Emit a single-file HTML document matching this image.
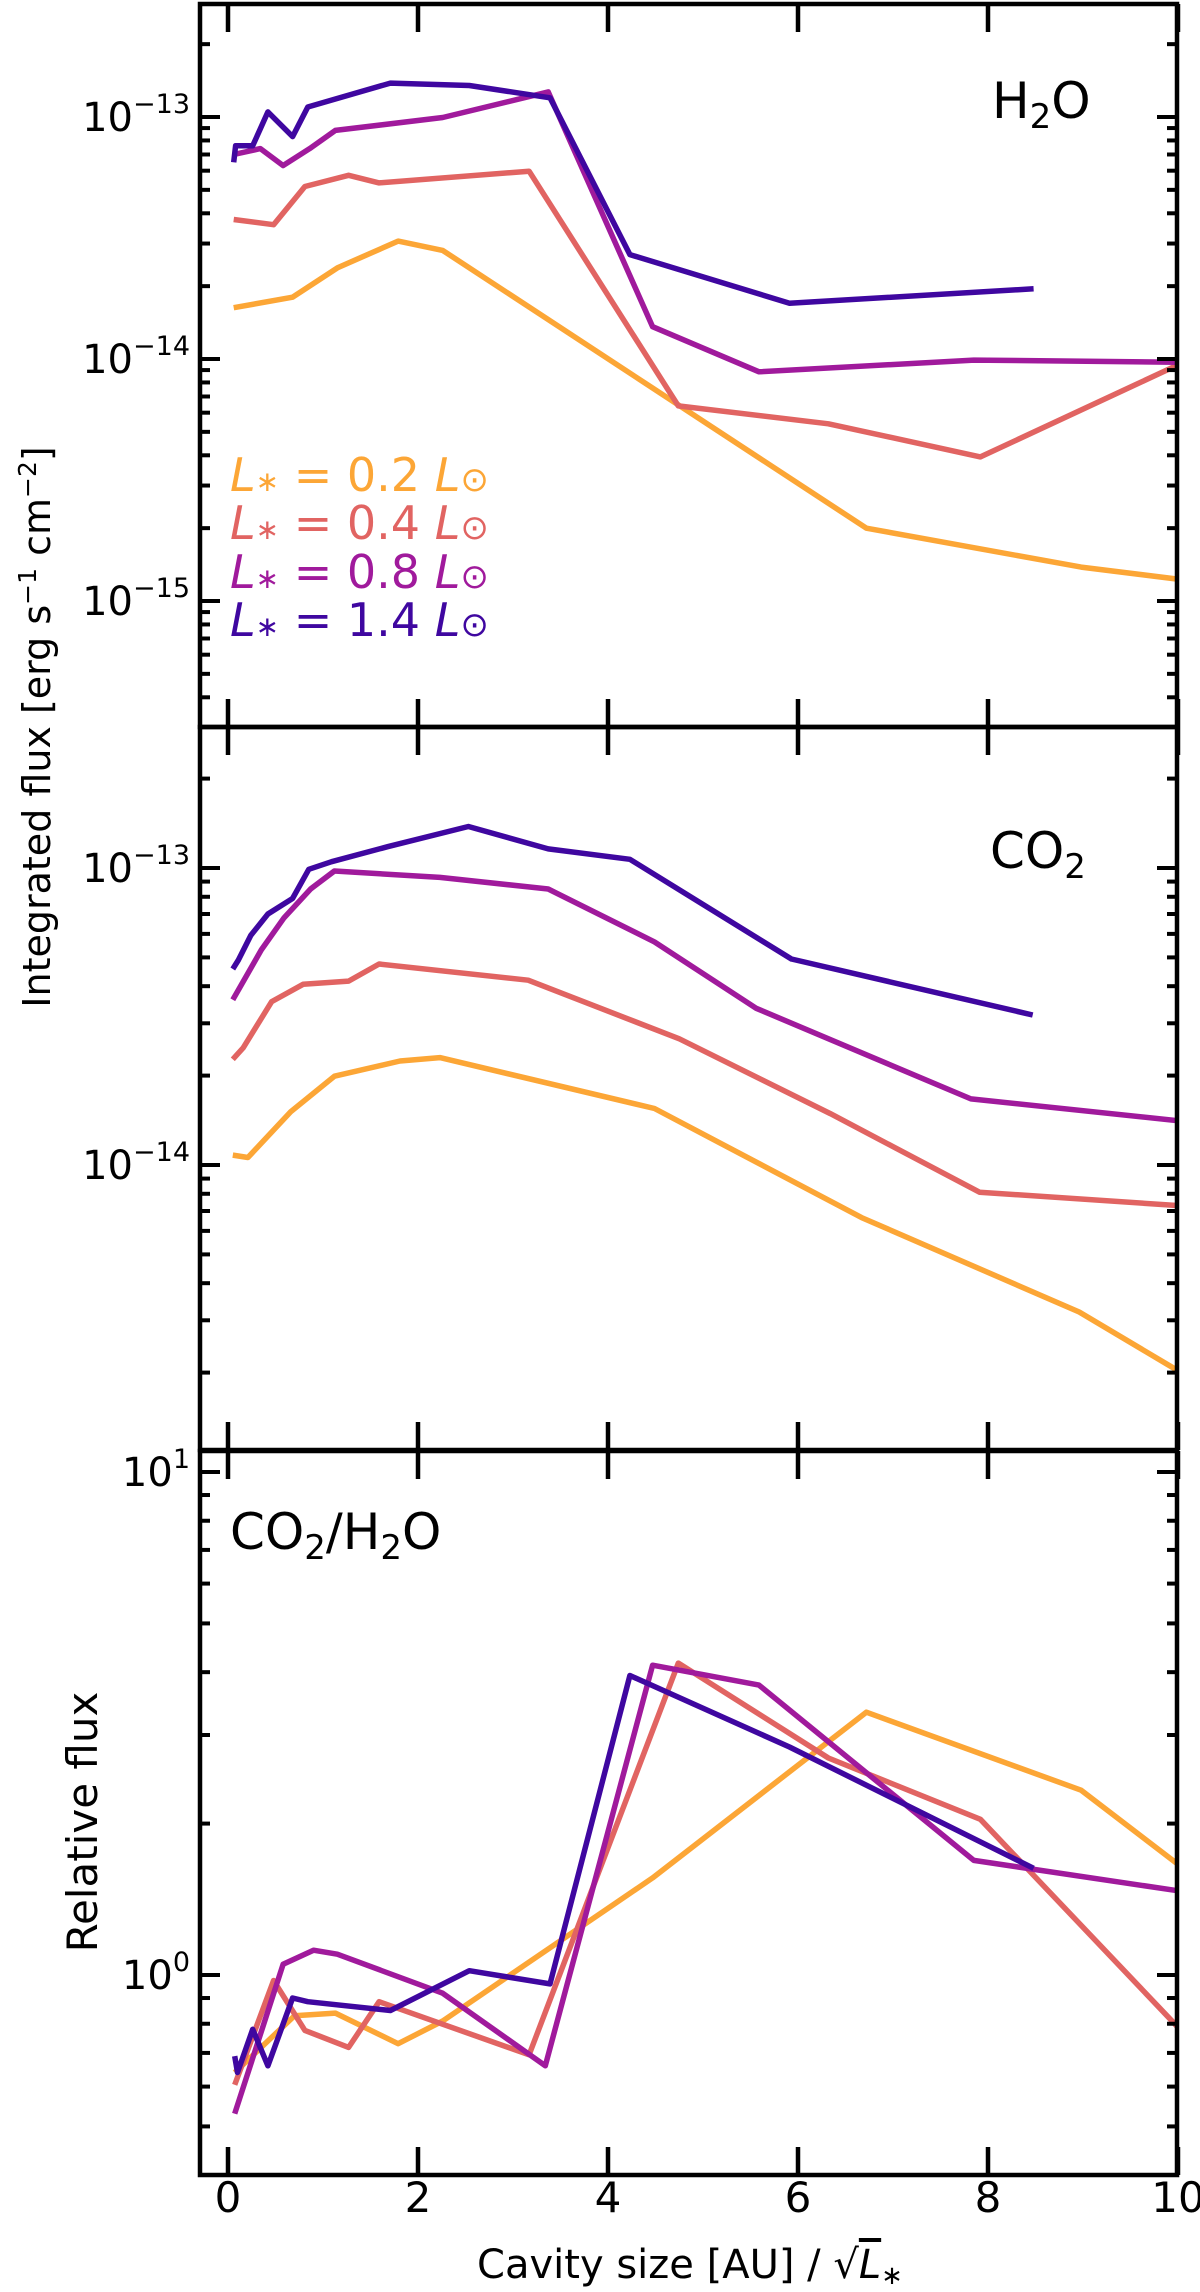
<!DOCTYPE html>
<html><head><meta charset="utf-8"><style>
html,body{margin:0;padding:0;background:#fff;}
svg{display:block;font-family:"DejaVu Sans","Liberation Sans",sans-serif;}
</style></head><body>
<svg id="chart" width="1200" height="2292" viewBox="0 0 1200 2292" xmlns="http://www.w3.org/2000/svg">
<g id="g1"></g>
<g id="g2"></g>
<g id="g3"></g>
<g id="ax"></g>
<text transform="translate(50,727) rotate(-90)" text-anchor="middle" font-size="38">Integrated flux [erg s<tspan baseline-shift="super" font-size="25">−1</tspan> cm<tspan baseline-shift="super" font-size="25">−2</tspan>]</text>
<text transform="translate(97,1822) rotate(-90)" text-anchor="middle" font-size="42">Relative flux</text>
<text x="690" y="2278" text-anchor="middle" font-size="40">Cavity size [AU] / √<tspan font-style="italic" text-decoration="overline">L</tspan><tspan font-size="26" dy="6">∗</tspan></text>
<text x="992" y="118" font-size="50">H<tspan font-size="34" dy="10">2</tspan><tspan dy="-10">O</tspan></text>
<text x="990" y="868" font-size="50">CO<tspan font-size="34" dy="10">2</tspan></text>
<text x="230" y="1549" font-size="50">CO<tspan font-size="34" dy="10">2</tspan><tspan dy="-10">/H</tspan><tspan font-size="34" dy="10">2</tspan><tspan dy="-10">O</tspan></text>
<g font-size="46">
<text x="230" y="491" fill="#fca636"><tspan font-style="italic">L</tspan><tspan font-size="28">∗</tspan> = 0.2 <tspan font-style="italic">L</tspan><tspan font-size="34">⊙</tspan></text>
<text x="230" y="539" fill="#e16462"><tspan font-style="italic">L</tspan><tspan font-size="28">∗</tspan> = 0.4 <tspan font-style="italic">L</tspan><tspan font-size="34">⊙</tspan></text>
<text x="230" y="588" fill="#a01a9c"><tspan font-style="italic">L</tspan><tspan font-size="28">∗</tspan> = 0.8 <tspan font-style="italic">L</tspan><tspan font-size="34">⊙</tspan></text>
<text x="230" y="636" fill="#3f07a0"><tspan font-style="italic">L</tspan><tspan font-size="28">∗</tspan> = 1.4 <tspan font-style="italic">L</tspan><tspan font-size="34">⊙</tspan></text>
</g>
</svg>
<script>
const colors = ["#fca636","#e16462","#a01a9c","#3f07a0"];
const seriesNames = ["L0.2","L0.4","L0.8","L1.4"];
const xTicks = [0,2,4,6,8,10];
// H2O panel
const h2oX = [
 [0.06,0.68,1.15,1.79,2.26,6.72,8.98,10.0],
 [0.06,0.48,0.81,1.27,1.59,3.17,4.74,6.32,7.92,10.0],
 [0.06,0.34,0.58,0.86,1.13,2.26,3.37,4.47,5.59,7.85,10.0],
 [0.06,0.08,0.26,0.42,0.68,0.84,1.71,2.54,3.39,4.23,5.91,8.48]];
const h2oY = [
 [1.63e-14,1.80e-14,2.38e-14,3.07e-14,2.81e-14,2.0e-15,1.38e-15,1.23e-15],
 [3.77e-14,3.59e-14,5.16e-14,5.74e-14,5.34e-14,5.97e-14,6.4e-15,5.4e-15,3.94e-15,9.45e-15],
 [7.0e-14,7.4e-14,6.3e-14,7.4e-14,8.8e-14,9.95e-14,1.27e-13,1.36e-14,8.85e-15,9.9e-15,9.7e-15],
 [6.5e-14,7.6e-14,7.6e-14,1.05e-13,8.3e-14,1.10e-13,1.38e-13,1.35e-13,1.20e-13,2.7e-14,1.7e-14,1.95e-14]];
// CO2 panel
const co2X = [
 [0.05,0.21,0.66,1.12,1.81,2.23,4.49,6.67,8.96,10.0],
 [0.05,0.16,0.46,0.79,1.27,1.59,3.16,4.75,6.34,7.91,10.0],
 [0.05,0.35,0.59,0.87,1.12,2.23,3.37,4.49,5.56,7.82,10.0],
 [0.05,0.11,0.24,0.42,0.68,0.85,1.09,1.68,2.53,3.37,4.23,5.93,8.47]];
const co2Y = [
 [1.08e-14,1.06e-14,1.51e-14,1.99e-14,2.24e-14,2.30e-14,1.55e-14,6.65e-15,3.2e-15,2.03e-15],
 [2.27e-14,2.48e-14,3.55e-14,4.06e-14,4.16e-14,4.75e-14,4.19e-14,2.66e-14,1.49e-14,8.1e-15,7.3e-15],
 [3.6e-14,5.3e-14,6.8e-14,8.5e-14,9.77e-14,9.3e-14,8.5e-14,5.64e-14,3.37e-14,1.67e-14,1.41e-14],
 [4.57e-14,4.9e-14,5.93e-14,7.0e-14,7.9e-14,9.9e-14,1.05e-13,1.18e-13,1.38e-13,1.16e-13,1.07e-13,4.94e-14,3.2e-14]];
// Ratio panel
const ratX = [
 [0.07,0.70,1.13,1.79,2.26,4.47,6.72,8.98,10.0],
 [0.07,0.48,0.81,1.27,1.59,3.17,4.74,6.32,7.92,10.0],
 [0.07,0.58,0.90,1.15,2.26,3.34,4.47,5.59,7.85,10.0],
 [0.07,0.10,0.26,0.42,0.68,0.84,1.71,2.54,3.39,4.23,5.91,8.48]];
const ratY = [
 [0.64,0.83,0.84,0.73,0.81,1.56,3.33,2.33,1.66],
 [0.605,0.975,0.776,0.718,0.885,0.694,4.17,2.70,2.04,0.787],
 [0.53,1.05,1.12,1.10,0.92,0.66,4.13,3.77,1.69,1.47],
 [0.69,0.64,0.78,0.66,0.90,0.885,0.85,1.02,0.96,3.94,2.84,1.63]];

const NS="http://www.w3.org/2000/svg";
const X0=200, X1=1177;
function xs(v){return 228+95*v;}
const panels=[
 {g:"g1",top:4,bot:727,ref:117,refExp:-13,dec:242,xs:h2oX,ys:h2oY,majors:[-13,-14,-15],name:"h2o"},
 {g:"g2",top:727,bot:1450,ref:868,refExp:-13,dec:297,xs:co2X,ys:co2Y,majors:[-13,-14],name:"co2"},
 {g:"g3",top:1451,bot:2175,ref:1975,refExp:0,dec:503,xs:ratX,ys:ratY,majors:[1,0],name:"ratio"}];
function mk(tag,attrs,parent){const e=document.createElementNS(NS,tag);for(const k in attrs)e.setAttribute(k,attrs[k]);parent.appendChild(e);return e;}
const ax=document.getElementById("ax");
panels.forEach((p,pi)=>{
 const g=document.getElementById(p.g);
 const ys=v=>p.ref-(Math.log10(v)-p.refExp)*p.dec;
 const clip=mk("clipPath",{id:"c"+pi},g);
 mk("rect",{x:X0,y:p.top,width:X1-X0,height:p.bot-p.top},clip);
 p.xs.forEach((xa,si)=>{
  const pts=xa.map((x,i)=>xs(x).toFixed(1)+","+ys(p.ys[si][i]).toFixed(1)).join(" ");
  const pl=mk("polyline",{points:pts,fill:"none",stroke:colors[si],"stroke-width":5.5,"stroke-linejoin":"round","clip-path":"url(#c"+pi+")"},g);
  
  
 });
 const fr=mk("rect",{x:X0,y:p.top,width:X1-X0,height:p.bot-p.top,fill:"none",stroke:"#000","stroke-width":4.5},ax);
 
 
 xTicks.forEach(t=>{
  const x=xs(t);
  mk("line",{x1:x,x2:x,y1:p.top,y2:p.top+28,stroke:"#000","stroke-width":4.5},ax);
  mk("line",{x1:x,x2:x,y1:p.bot,y2:p.bot-28,stroke:"#000","stroke-width":4.5},ax);
 });
 const lo=p.refExp-(p.bot-p.ref)/p.dec, hi=p.refExp+(p.ref-p.top)/p.dec;
 for(let e=Math.floor(lo);e<=Math.ceil(hi);e++){
  for(let m=1;m<10;m++){
   const lv=e+Math.log10(m);
   if(lv<lo||lv>hi) continue;
   const y=p.ref-(lv-p.refExp)*p.dec;
   const L=m===1?20:10;
   mk("line",{x1:X0,x2:X0+L,y1:y,y2:y,stroke:"#000","stroke-width":4},ax);
   mk("line",{x1:X1,x2:X1-L,y1:y,y2:y,stroke:"#000","stroke-width":4},ax);
  }
 }
 p.majors.forEach(e=>{
  const y=p.ref-(e-p.refExp)*p.dec;
  const t=mk("text",{x:190,y:y+14,"text-anchor":"end","font-size":40},ax);
  
  
  t.textContent="10";
  const s=mk("tspan",{"font-size":27,dy:-18},t);
  s.textContent=(e<0?"−":"")+Math.abs(e);
 });
});
xTicks.forEach(t=>{
 const tl=mk("text",{x:xs(t),y:2212,"text-anchor":"middle","font-size":42},ax);
 
 
 tl.textContent=t;
});
</script>
</body></html>
